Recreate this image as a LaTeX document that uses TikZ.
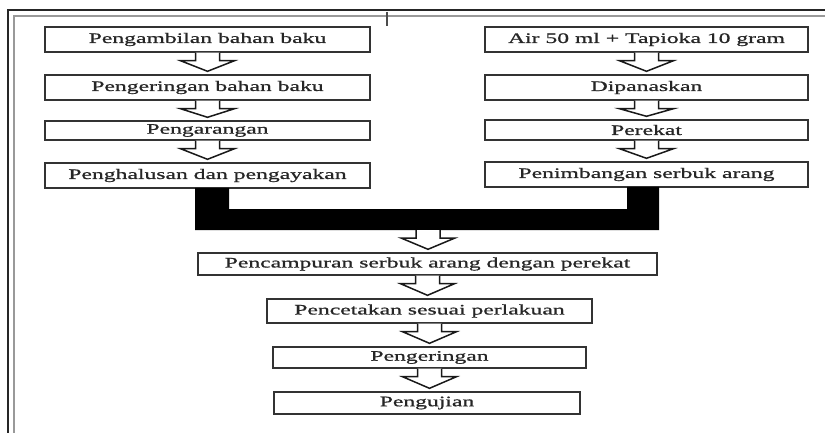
\documentclass[tikz,border=0pt]{standalone}
\usepackage{fontspec}
\setmainfont{Liberation Serif}[FakeStretch=1.63,FakeBold=0.9]
\usetikzlibrary{calc}
\newcommand\barrow[2]{\draw[hollow] let \p1=(#1), \p2=(#2) in
  (\x1-12pt,\y1) -- (\x1-12pt,\y1-8pt) -- (\x1-27pt,\y1-8pt) -- (\x1,\y2+3pt)
  -- (\x1+27pt,\y1-8pt) -- (\x1+12pt,\y1-8pt) -- (\x1+12pt,\y1);}
\begin{document}
\begin{tikzpicture}[x=1pt,y=-1pt,
  stepbox/.style={draw=black!80, line width=1.4pt, inner sep=0pt,
    font=\fontsize{14.5}{16}\selectfont, text=black!85},
  hollow/.style={draw=black!90, line width=1.5pt, fill=white, line join=miter}]
\useasboundingbox (0,0) rectangle (825,433);
% page border
\draw[black!85, line width=1.2pt] (8,433) -- (8,10) -- (825,10);
\draw[black!40, line width=1.2pt] (14,433) -- (14,16) -- (825,16);
\draw[black!70, line width=1.2pt] (387,12) -- (387,26);
% left column
\node[stepbox, minimum width=325, minimum height=25] (l1) at (207.5,39.5) {Pengambilan bahan baku};
\node[stepbox, minimum width=325, minimum height=25] (l2) at (207.5,87.5) {Pengeringan bahan baku};
\node[stepbox, minimum width=325, minimum height=19] (l3) at (207.5,130.5) {Pengarangan};
\node[stepbox, minimum width=325, minimum height=25] (l4) at (207.5,175.5) {Penghalusan dan pengayakan};
% right column
\node[stepbox, minimum width=323, minimum height=25] (r1) at (646.5,39.5) {Air 50 ml + Tapioka 10 gram};
\node[stepbox, minimum width=323, minimum height=25] (r2) at (646.5,87.5) {Dipanaskan};
\node[stepbox, minimum width=323, minimum height=20] (r3) at (646.5,130) {Perekat};
\node[stepbox, minimum width=323, minimum height=25] (r4) at (646.5,174.5) {Penimbangan serbuk arang};
% merged column
\node[stepbox, minimum width=459, minimum height=22] (m1) at (427.5,264) {Pencampuran serbuk arang dengan perekat};
\node[stepbox, minimum width=325, minimum height=24] (m2) at (429.5,311) {Pencetakan sesuai perlakuan};
\node[stepbox, minimum width=313, minimum height=21] (m3) at (429.5,357.5) {Pengeringan};
\node[stepbox, minimum width=306, minimum height=22] (m4) at (427,403) {Pengujian};
% black U joiner
\fill[black] (195,188) -- (229,188) -- (229,209) -- (627,209) -- (627,187) -- (659,187)
  -- (659,230) -- (195,230) -- cycle;
\coordinate (u) at (428,230);
% hollow arrows
\barrow{l1.south}{l2.north}
\barrow{l2.south}{l3.north}
\barrow{l3.south}{l4.north}
\barrow{r1.south}{r2.north}
\barrow{r2.south}{r3.north}
\barrow{r3.south}{r4.north}
\barrow{u}{m1.north}
\barrow{m1.south}{m2.north}
\barrow{m2.south}{m3.north}
\barrow{m3.south}{m4.north}
\end{tikzpicture}
\end{document}
